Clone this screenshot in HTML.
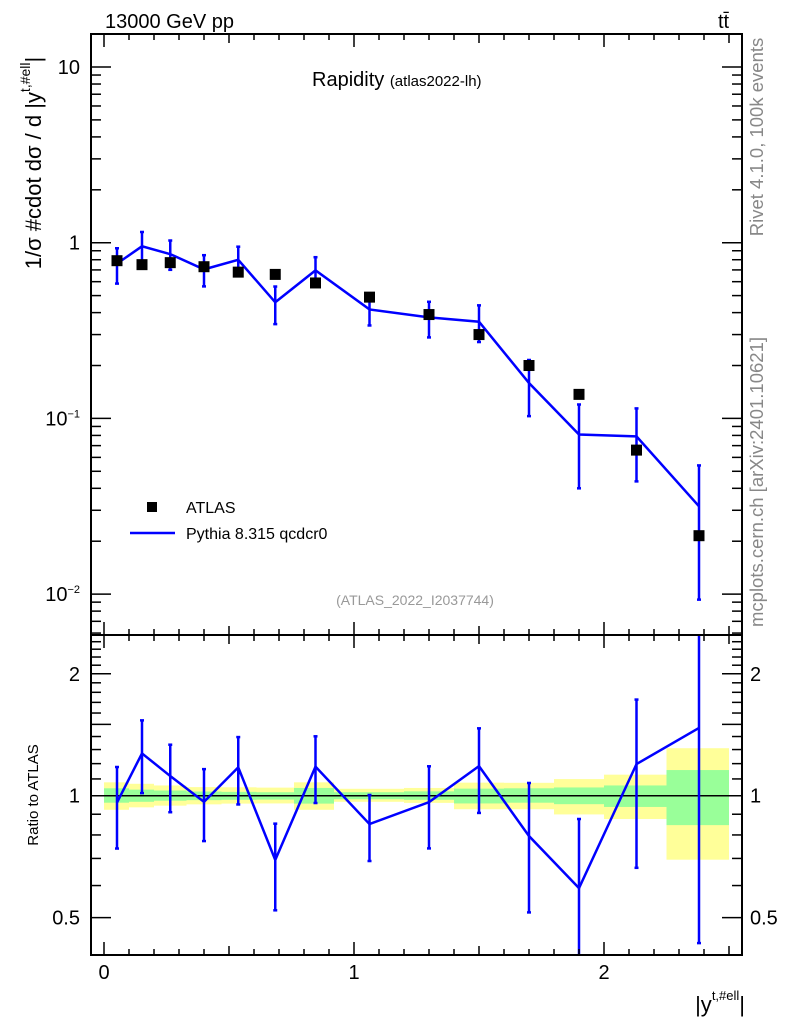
<!DOCTYPE html>
<html><head><meta charset="utf-8"><style>
html,body{margin:0;padding:0;background:#fff;}
svg{display:block;font-family:"Liberation Sans",sans-serif;}
</style></head><body>
<svg id="c" width="786" height="1024" viewBox="0 0 786 1024" xmlns="http://www.w3.org/2000/svg">
<g id="bands"></g>
<g id="marks"></g>
<g id="axes"></g>
<text x="105" y="28" font-size="20">13000 GeV pp</text>
<text x="718" y="28" font-size="20">tt̄</text>
<text x="312" y="86" font-size="20">Rapidity <tspan font-size="15">(atlas2022-lh)</tspan></text>
<text transform="translate(41,163) rotate(-90)" text-anchor="middle" font-size="22">1/σ #cdot dσ / d |y<tspan font-size="14" dy="-11">t,#ell</tspan><tspan dy="11">|</tspan></text>
<text transform="translate(38,795) rotate(-90)" text-anchor="middle" font-size="15">Ratio to ATLAS</text>
<text transform="translate(763,137) rotate(-90)" text-anchor="middle" font-size="18.5" fill="#888">Rivet 4.1.0,  100k events</text>
<text transform="translate(763,482) rotate(-90)" text-anchor="middle" font-size="18.5" fill="#888">mcplots.cern.ch [arXiv:2401.10621]</text>
<text x="415" y="605" text-anchor="middle" font-size="14" fill="#999">(ATLAS_2022_I2037744)</text>
<text x="745" y="1012" text-anchor="end" font-size="22">|y<tspan font-size="13" dy="-12">t,#ell</tspan><tspan dy="12">|</tspan></text>
<g>
<rect x="147" y="502" width="10" height="10" fill="#000"/>
<text x="186" y="513" font-size="16">ATLAS</text>
<line x1="130" y1="533" x2="175" y2="533" stroke="#0000ff" stroke-width="2.5"/>
<text x="186" y="539" font-size="16">Pythia 8.315 qcdcr0</text>
</g>
</svg>
<script>
const edges=[0,0.1,0.2,0.33,0.47,0.61,0.76,0.92,1.2,1.4,1.6,1.8,2.0,2.25,2.5];
const centers=[0.052,0.152,0.265,0.4,0.537,0.685,0.846,1.062,1.30,1.50,1.70,1.90,2.13,2.38];
const dataVals=[0.79,0.75,0.77,0.73,0.68,0.66,0.59,0.49,0.39,0.30,0.20,0.137,0.066,0.0215];
const totUp=[.079,.07,.06,.05,.049,.047,.079,.04,.045,.077,.076,.099,.127,.31];
const totDn=[.077,.064,.055,.048,.044,.043,.077,.034,.04,.074,.074,.101,.124,.305];
const statUp=[.043,.035,.03,.024,.022,.02,.045,.02,.025,.041,.043,.048,.06,.157];
const statDn=[.039,.034,.028,.025,.023,.022,.044,.02,.023,.043,.039,.047,.062,.154];
const mcVals=[0.76,0.954,0.861,0.705,0.799,0.458,0.696,0.417,0.376,0.355,0.159,0.081,0.079,0.0316];
const mcHi=[0.93,1.151,1.029,0.849,0.949,0.563,0.827,0.492,0.461,0.440,0.215,0.120,0.114,0.054];
const mcLo=[0.585,0.761,0.701,0.564,0.647,0.344,0.566,0.338,0.289,0.272,0.103,0.040,0.0438,0.0093];
const yTicks=[10,1,0.1,0.01];
const yTickLabels=["10","1","10<tspan font-size='11' dy='-8'>−1</tspan>","10<tspan font-size='11' dy='-8'>−2</tspan>"];
const rTicks=[2,1,0.5];
const rTickLabels=["2","1","0.5"];
const xTicks=[0,1,2];

const L=91,R=742,T=34,M=635,B=955;
const X=v=>104+v*250;
const Y=v=>67+(1-Math.log10(v))*175.7;
const RY=v=>795.7-Math.log10(v)*405;
const clampR=y=>Math.max(M,Math.min(B,y));
const NS="http://www.w3.org/2000/svg";
function mk(p,tag,a){const e=document.createElementNS(NS,tag);for(const k in a)e.setAttribute(k,a[k]);p.appendChild(e);return e;}
const bands=document.getElementById('bands'),marks=document.getElementById('marks'),axes=document.getElementById('axes');

for(let i=0;i<centers.length;i++){
  let r=mk(bands,'rect',{x:X(edges[i]),width:X(edges[i+1])-X(edges[i]),y:RY(1+totUp[i]),height:RY(1-totDn[i])-RY(1+totUp[i]),fill:'#ffff99'});
  
  
  let g=mk(bands,'rect',{x:X(edges[i]),width:X(edges[i+1])-X(edges[i]),y:RY(1+statUp[i]),height:RY(1-statDn[i])-RY(1+statUp[i]),fill:'#99ff99'});
  
  
}
let one=mk(marks,'line',{x1:L,x2:R,y1:RY(1),y2:RY(1),stroke:'#000','stroke-width':1.5});



for(let i=0;i<centers.length;i++){
  const x=X(centers[i]);
  let e=mk(marks,'line',{x1:x,x2:x,y1:Y(mcHi[i]),y2:Y(mcLo[i]),stroke:'#0000ff','stroke-width':2.5});
  
  
  for(const v of [mcHi[i],mcLo[i]]){let c=mk(marks,'line',{x1:x-2,x2:x+2,y1:Y(v),y2:Y(v),stroke:'#0000ff','stroke-width':2.5});}
}
let pl=mk(marks,'polyline',{points:centers.map((c,i)=>X(c)+','+Y(mcVals[i])).join(' '),fill:'none',stroke:'#0000ff','stroke-width':2.5});


for(let i=0;i<centers.length;i++){
  let s=mk(marks,'rect',{x:X(centers[i])-5.5,y:Y(dataVals[i])-5.5,width:11,height:11,fill:'#000'});
  
  
}
const rp=[];
for(let i=0;i<centers.length;i++){
  const x=X(centers[i]);
  const hi=RY(mcHi[i]/dataVals[i]),lo=RY(mcLo[i]/dataVals[i]);
  let e=mk(marks,'line',{x1:x,x2:x,y1:clampR(hi),y2:clampR(lo),stroke:'#0000ff','stroke-width':2.5});
  
  
  for(const yy of [hi,lo]){if(yy>M&&yy<B){let c=mk(marks,'line',{x1:x-2,x2:x+2,y1:yy,y2:yy,stroke:'#0000ff','stroke-width':2.5});}}
  rp.push(x+','+RY(mcVals[i]/dataVals[i]));
}
let rl=mk(marks,'polyline',{points:rp.join(' '),fill:'none',stroke:'#0000ff','stroke-width':2.5});



for(const [y1,y2,n] of [[T,M,'main-frame'],[M,B,'ratio-frame']]){
  let f=mk(axes,'rect',{x:L,y:y1,width:R-L,height:y2-y1,fill:'none',stroke:'#000','stroke-width':2});
  
  
}
for(let k=0;k<=25;k++){
  const v=k/10,x=X(v);if(x>R)break;
  const len=(k%10==0)?13:(k%5==0?9:6);
  for(const [y,d] of [[T,1],[M,-1],[M,1],[B,-1]])mk(axes,'line',{x1:x,x2:x,y1:y,y2:y+d*len,stroke:'#000','stroke-width':1.5});
}
xTicks.forEach(v=>{let t=mk(axes,'text',{x:X(v),y:979,'text-anchor':'middle','font-size':20});t.textContent=v;});
for(let d=-3;d<=1;d++)for(let m=1;m<=9;m++){
  const v=m*Math.pow(10,d),y=Y(v);if(y<T||y>M)continue;
  const len=m==1?20:10;
  mk(axes,'line',{x1:L,x2:L+len,y1:y,y2:y,stroke:'#000','stroke-width':1.5});
  mk(axes,'line',{x1:R,x2:R-len,y1:y,y2:y,stroke:'#000','stroke-width':1.5});
}
yTicks.forEach((v,i)=>{let t=mk(axes,'text',{x:80,y:Y(v)+7,'text-anchor':'end','font-size':20});t.innerHTML=yTickLabels[i];});
for(let k=4;k<=25;k++){
  const v=k/10,y=RY(v);if(y<M||y>B)continue;
  const len=(k%5==0)?20:10;
  mk(axes,'line',{x1:L,x2:L+len,y1:y,y2:y,stroke:'#000','stroke-width':1.5});
  mk(axes,'line',{x1:R,x2:R-len,y1:y,y2:y,stroke:'#000','stroke-width':1.5});
}
rTicks.forEach((v,i)=>{
  let t=mk(axes,'text',{x:80,y:RY(v)+7,'text-anchor':'end','font-size':20});t.textContent=rTickLabels[i];
  let u=mk(axes,'text',{x:750,y:RY(v)+7,'font-size':20});u.textContent=rTickLabels[i];
});
</script>
</body></html>
